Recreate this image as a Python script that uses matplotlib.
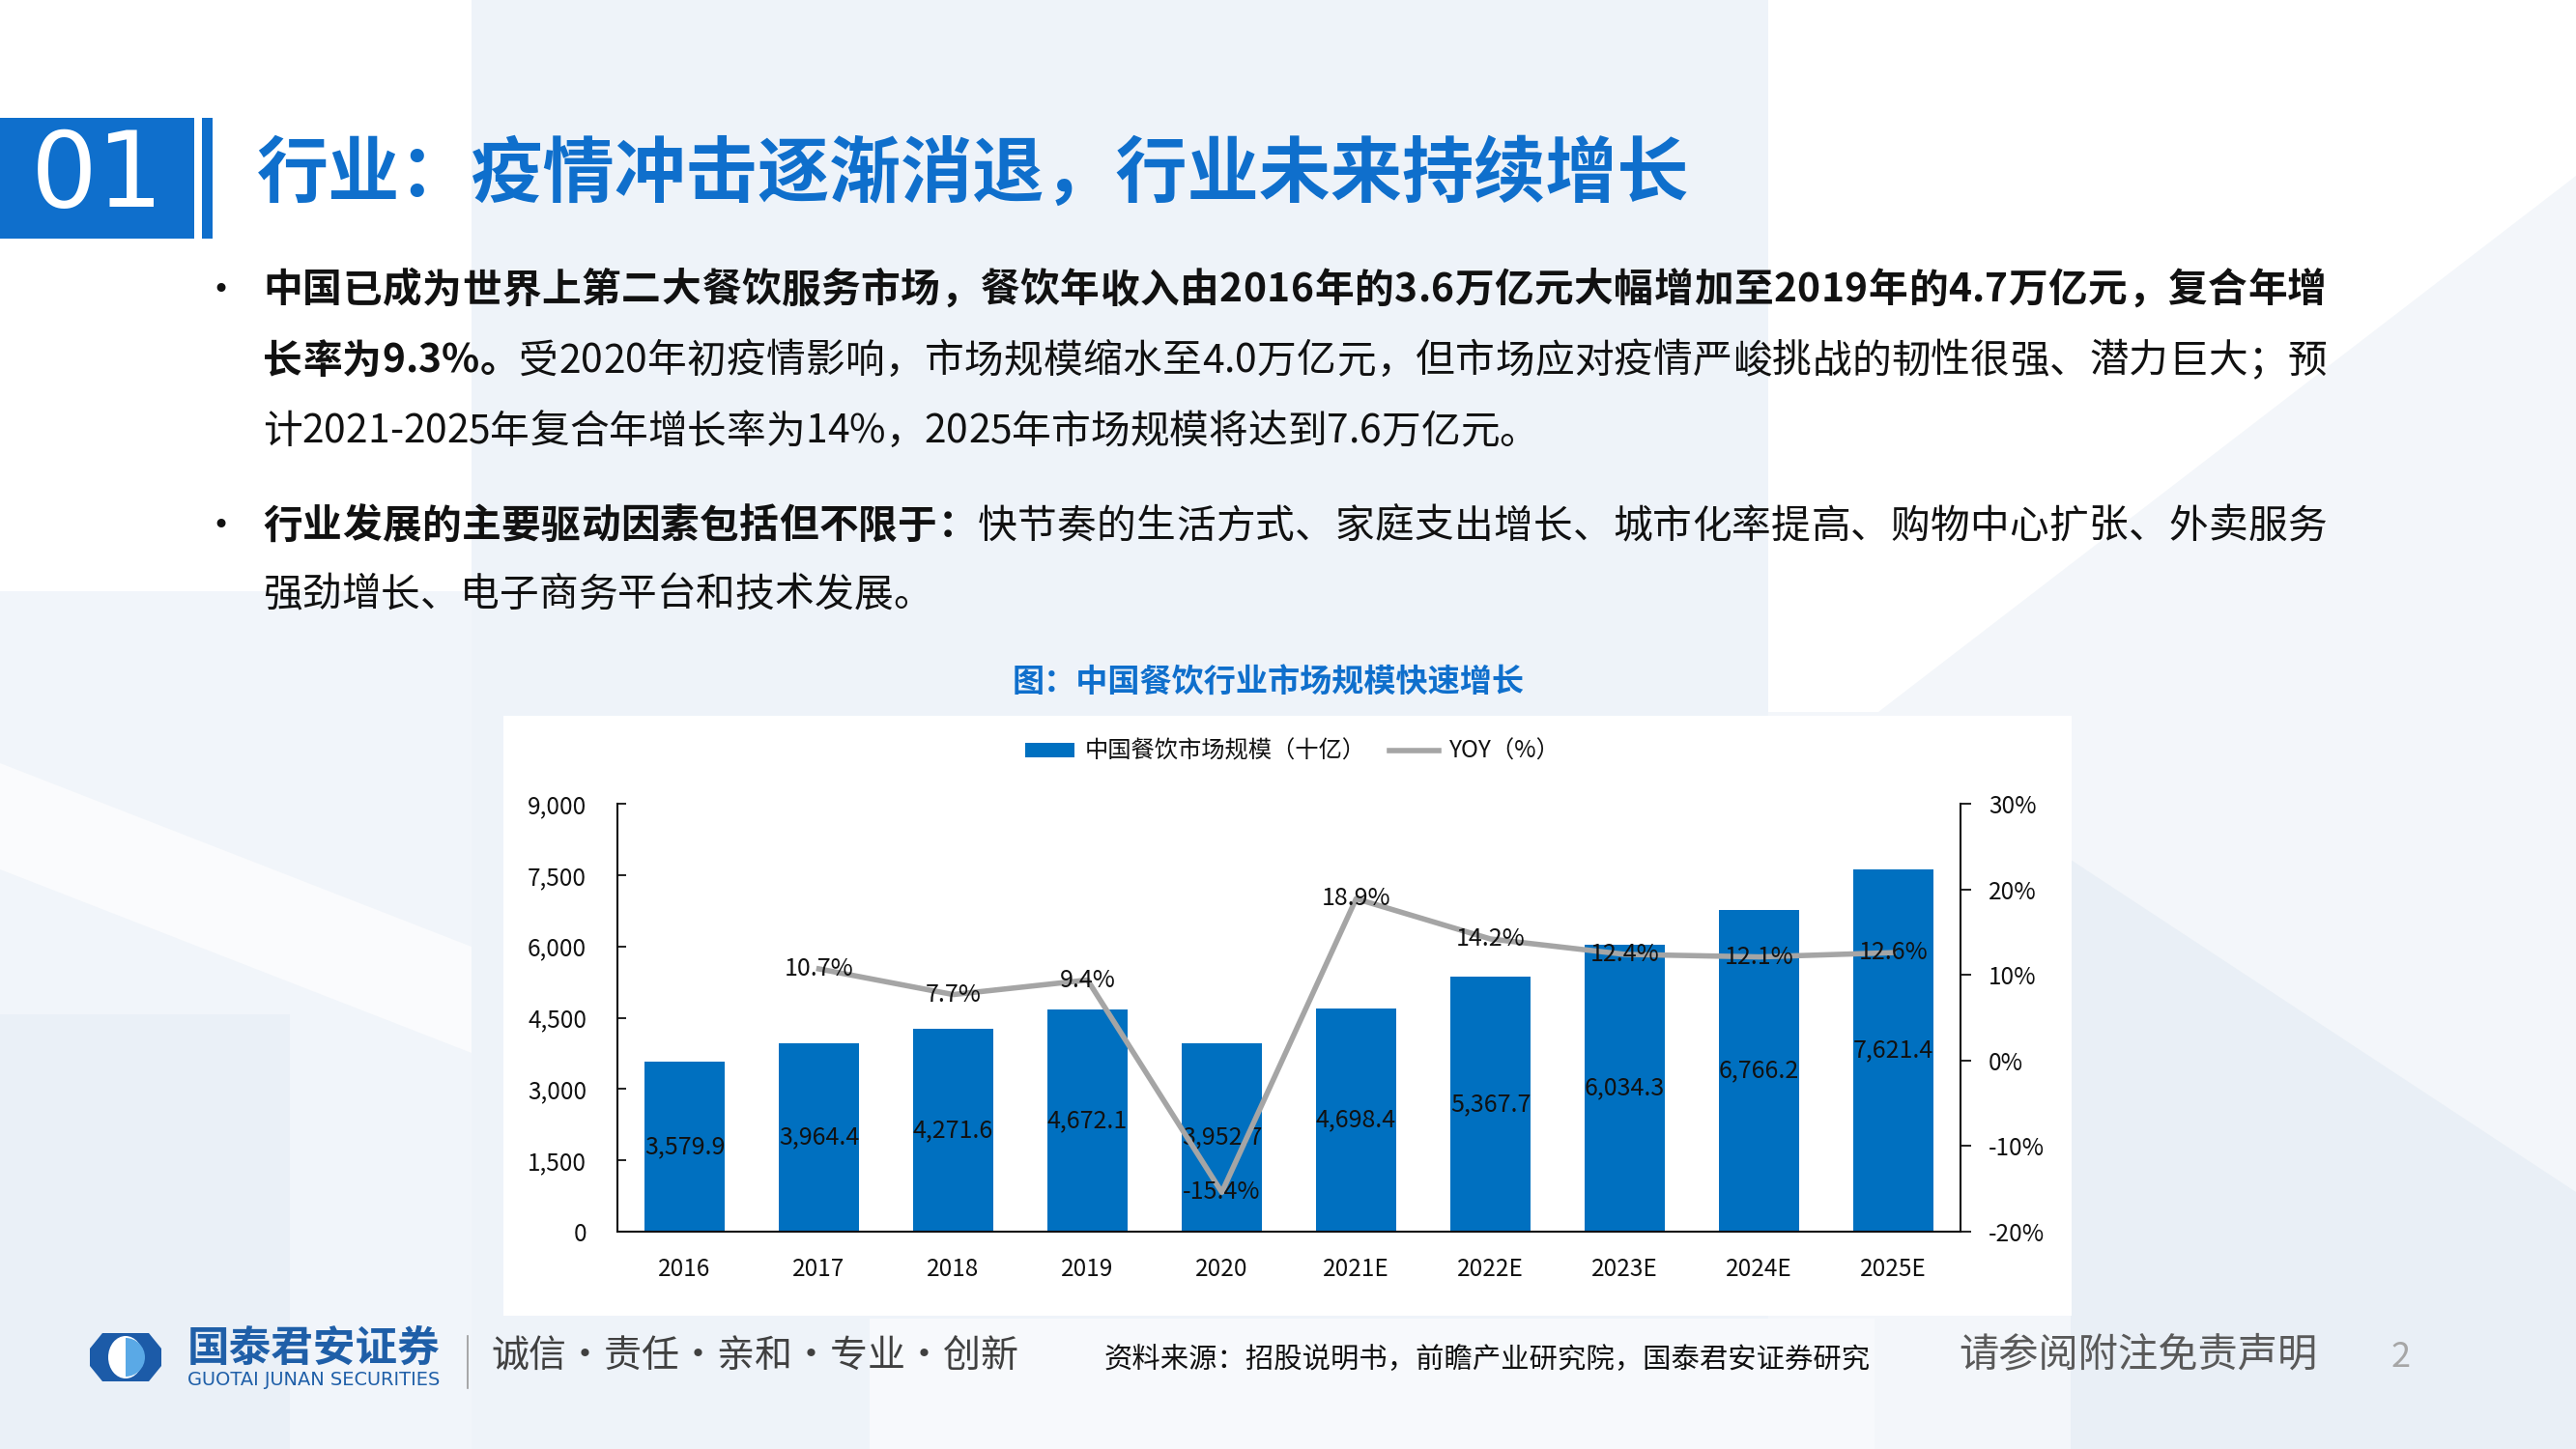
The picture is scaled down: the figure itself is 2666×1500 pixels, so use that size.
import numpy as np
import matplotlib
matplotlib.use('Agg')
import matplotlib.pyplot as plt
from matplotlib.patches import Rectangle, Polygon, Ellipse, Wedge

FONT = ['Noto Sans CJK SC', 'DejaVu Sans']
plt.rcParams['font.family'] = FONT
plt.rcParams['axes.unicode_minus'] = False

# ---------------- data ----------------
categories = ['2016', '2017', '2018', '2019', '2020', '2021E', '2022E', '2023E', '2024E', '2025E']
market_size = [3579.9, 3964.4, 4271.6, 4672.1, 3952.7, 4698.4, 5367.7, 6034.3, 6766.2, 7621.4]
yoy = [np.nan, 10.7, 7.7, 9.4, -15.4, 18.9, 14.2, 12.4, 12.1, 12.6]
left_ticks = [0, 1500, 3000, 4500, 6000, 7500, 9000]
right_ticks = [-20, -10, 0, 10, 20, 30]
series_names = ['中国餐饮市场规模（十亿）', 'YOY（%）']

section_no = '01'
page_title = '行业：疫情冲击逐渐消退，行业未来持续增长'
chart_title = '图：中国餐饮行业市场规模快速增长'
bullet_lines = [
    [('中国已成为世界上第二大餐饮服务市场，餐饮年收入由2016年的3.6万亿元大幅增加至2019年的4.7万亿元，复合年增', 'bold')],
    [('长率为9.3%。', 'bold'), ('受2020年初疫情影响，市场规模缩水至4.0万亿元，但市场应对疫情严峻挑战的韧性很强、潜力巨大；预', 'normal')],
    [('计2021-2025年复合年增长率为14%，2025年市场规模将达到7.6万亿元。', 'normal')],
    [('行业发展的主要驱动因素包括但不限于：', 'bold'), ('快节奏的生活方式、家庭支出增长、城市化率提高、购物中心扩张、外卖服务', 'normal')],
    [('强劲增长、电子商务平台和技术发展。', 'normal')],
]
company_cn = '国泰君安证券'
company_en = 'GUOTAI JUNAN SECURITIES'
motto = '诚信·责任·亲和·专业·创新'
source = '资料来源：招股说明书，前瞻产业研究院，国泰君安证券研究'
disclaimer = '请参阅附注免责声明'
page_no = '2'

BLUE = '#0F6FCC'
BAR = '#0070C0'
GREY_LINE = '#A5A5A5'
PALE = '#EEF3F9'

W, H = 2666, 1500
fig = plt.figure(figsize=(W / 100, H / 100), dpi=100)
fig.patch.set_facecolor('white')
bg = fig.add_axes([0, 0, 1, 1])
bg.set_xlim(0, W)
bg.set_ylim(H, 0)
bg.axis('off')
bg.set_zorder(0)
R = fig.canvas.get_renderer()

# ---------------- background shapes ----------------
bg.add_patch(Polygon([(488, 0), (1830, 0), (1830, 1500), (488, 1500)], closed=True, fc=PALE, ec='none'))
bg.add_patch(Polygon([(0, 612), (488, 612), (488, 1500), (0, 1500)], closed=True, fc='#F1F5FA', ec='none'))
bg.add_patch(Polygon([(0, 790), (0, 900), (488, 1090), (488, 980)], closed=True, fc='#FAFBFD', ec='none'))
bg.add_patch(Polygon([(0, 1050), (300, 1050), (300, 1500), (0, 1500)], closed=True, fc='#EAF0F7', ec='none'))
bg.add_patch(Polygon([(2666, 182), (1944, 737), (1830, 737), (1830, 1500), (2666, 1500)], closed=True, fc='#F3F6FA', ec='none'))
bg.add_patch(Polygon([(2143, 890), (2666, 1234), (2666, 1500), (2143, 1500)], closed=True, fc='#E9EFF6', ec='none'))
bg.add_patch(Polygon([(900, 1365), (1940, 1365), (1940, 1500), (900, 1500)], closed=True, fc='#F7F9FC', ec='none'))

# white chart panel
bg.add_patch(Rectangle((521, 741), 1623, 621, fc='white', ec='none'))

# ---------------- header ----------------
bg.add_patch(Rectangle((0, 122), 201, 125, fc=BLUE, ec='none'))
bg.add_patch(Rectangle((209, 122), 11, 125, fc=BLUE, ec='none'))
bg.text(101, 184, section_no, color='white', fontsize=78, family=['DejaVu Sans'],
        fontweight='normal', ha='center', va='center')


def fit_text(x, y, s, width, size0=20, ha='left', **kw):
    t = bg.text(x, y, s, fontsize=size0, ha=ha, va='center', **kw)
    w = t.get_window_extent(renderer=R).width
    t.set_fontsize(size0 * width / w)
    return t


fit_text(266, 181, page_title, 1485, 50, color=BLUE, fontweight='bold')


# ---------------- bullet text ----------------
def put_line(x0, y, segs, size, width=None, color='#111111'):
    items = []
    for s, w in segs:
        for ch in s:
            t = bg.text(0, y, ch, fontsize=size, fontweight=w, ha='left', va='center', color=color)
            items.append(t)
    ws = [t.get_window_extent(renderer=R).width for t in items]
    nat = sum(ws)
    extra = 0.0
    if width is not None and len(items) > 1:
        extra = (width - nat) / (len(items) - 1)
    x = x0
    for t, w in zip(items, ws):
        t.set_x(x)
        x += w + extra


TX = 272
line_y = [301, 374, 447, 545, 616]
justify = [True, True, False, True, False]
for segs, y, j in zip(bullet_lines, line_y, justify):
    put_line(TX, y, segs, 29.3, width=2136 if j else None)
for y in (line_y[0], line_y[3]):
    bg.text(228, y, '•', fontsize=22, ha='center', va='center', color='#111111', family=['DejaVu Sans'])

# chart title
fit_text(1048, 707, chart_title, 531, 24, color=BLUE, fontweight='bold')

# ---------------- chart ----------------
ax = fig.add_axes([639 / W, 225 / H, 1390 / W, 443 / H])
ax.set_zorder(2)
ax.patch.set_alpha(0)
x = np.arange(len(categories))
bars = ax.bar(x, market_size, width=0.59, color=BAR, zorder=2, label=series_names[0])
ax.set_xlim(-0.5, len(categories) - 0.5)
ax.set_ylim(0, 9000)
ax.set_yticks(left_ticks)
ax.set_yticklabels([f'{v:,.0f}' for v in left_ticks])
ax.set_xticks(x)
ax.set_xticklabels(categories)
ax.tick_params(axis='y', direction='in', length=6.5, width=1.3, pad=23, labelsize=17.5, colors='#111111')
ax.tick_params(axis='x', length=0, pad=19, labelsize=17.5, colors='#111111')
for side in ('top', 'right'):
    ax.spines[side].set_visible(False)
for side in ('left', 'bottom'):
    ax.spines[side].set_linewidth(1.5)
    ax.spines[side].set_color('#111111')

ax2 = ax.twinx()
ax2.set_zorder(3)
ax2.patch.set_alpha(0)
line, = ax2.plot(x, yoy, color=GREY_LINE, lw=4, solid_joinstyle='round', zorder=3, label=series_names[1])
ax2.set_ylim(-20, 30)
ax2.set_yticks(right_ticks)
ax2.set_yticklabels([f'{v:.0f}%' for v in right_ticks])
ax2.tick_params(axis='y', direction='out', length=8, width=1.3, pad=13, labelsize=17.5, colors='#111111')
for side in ('top', 'left', 'bottom'):
    ax2.spines[side].set_visible(False)
ax2.spines['right'].set_linewidth(1.5)
ax2.spines['right'].set_color('#111111')

for xi, v in zip(x, market_size):
    ax.text(xi, v / 2, f'{v:,.1f}', ha='center', va='center', fontsize=18, color='#111111', zorder=5)
for xi, v in zip(x, yoy):
    if not np.isnan(v):
        ax2.text(xi, v, f'{v:.1f}%', ha='center', va='center', fontsize=18, color='#111111', zorder=6)

leg = fig.legend(handles=[bars, line], labels=series_names, loc='center', ncol=2,
                 bbox_to_anchor=(1338 / W, 1 - 778 / H), frameon=False, fontsize=17.5,
                 handlelength=2.1, handleheight=0.6, handletextpad=0.45, columnspacing=1.0)
for t in leg.get_texts():
    t.set_color('#111111')

# ---------------- footer ----------------
bg.add_patch(Polygon([(106, 1380), (154, 1380), (167, 1396), (167, 1414), (154, 1430), (106, 1430),
                      (93, 1414), (93, 1396)], closed=True, fc='#1C5BA8', ec='none'))
bg.add_patch(Ellipse((130, 1405), 36, 44, fc='white', ec='none'))
bg.add_patch(Wedge((130, 1405), 20, -90, 90, fc='#5AA9E6', ec='none'))
fit_text(194, 1396, company_cn, 262, 24, color='#1F5FA8', fontweight='bold')
fit_text(194, 1429, company_en, 262, 8, color='#1F5FA8', family=['DejaVu Sans'])
bg.plot([484, 484], [1383, 1437], color='#999999', lw=1.2)
fit_text(508, 1405, motto, 546, 28, color='#404040')
fit_text(1143, 1408, source, 791, 20, color='#111111')
fit_text(2027, 1403, disclaimer, 371, 28, color='#595959')
bg.text(2485, 1405, page_no, fontsize=26, color='#A6A6A6', ha='center', va='center')

fig.savefig('out.png', dpi=100, facecolor='white')
